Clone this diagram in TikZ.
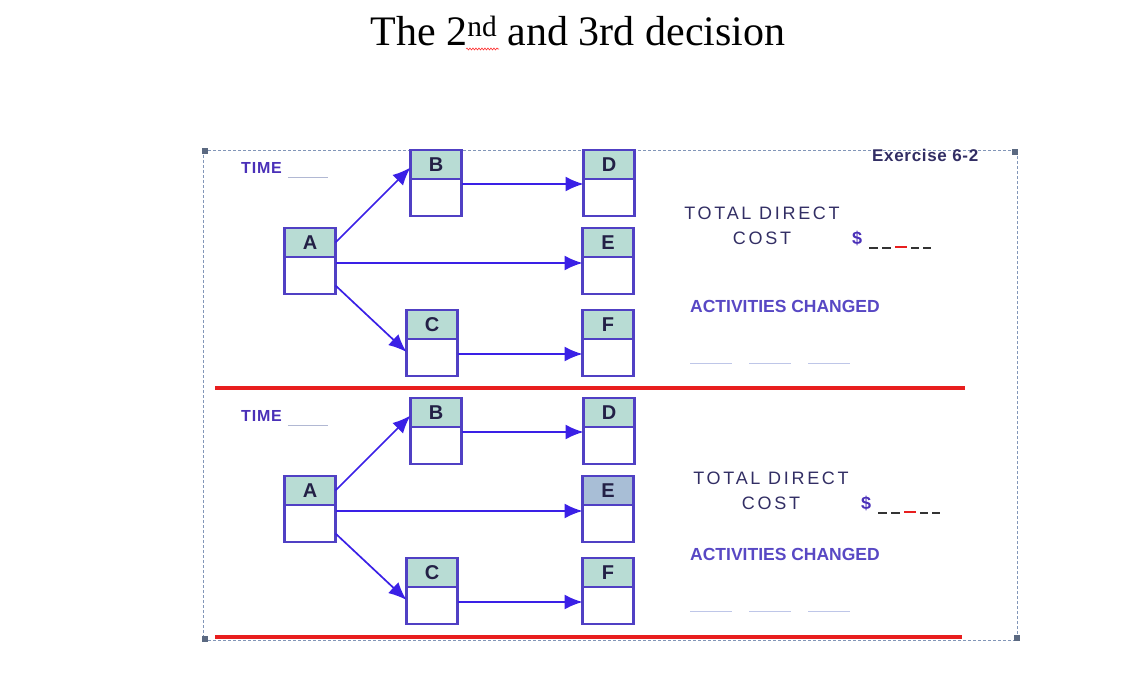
\documentclass[tikz,border=0pt]{standalone}
\usepackage{fontspec}
\setmainfont{Liberation Serif}
\setsansfont{Liberation Sans}
\usetikzlibrary{arrows.meta, positioning, calc, decorations.pathmorphing}
\definecolor{boxline}{RGB}{80, 64, 196}
\definecolor{hdrfill}{RGB}{184, 220, 212}
\definecolor{hdrdark}{RGB}{168, 190, 214}
\definecolor{arrblue}{RGB}{58, 32, 230}
\definecolor{navytext}{RGB}{50, 46, 100}
\definecolor{purpletext}{RGB}{88, 72, 196}
\definecolor{timetext}{RGB}{74, 48, 184}
\definecolor{framegray}{RGB}{130, 150, 184}
\definecolor{redrule}{RGB}{232, 30, 30}
\definecolor{blankline}{RGB}{190, 198, 232}

\begin{document}
\begin{tikzpicture}[x=1pt, y=-1pt,
  every node/.style={font=\sffamily},
  hdr/.style={draw=boxline, line width=2.2pt, fill=hdrfill, outer sep=0pt,
              minimum width=51pt, minimum height=29pt, inner sep=0pt,
              font=\sffamily\bfseries\fontsize{20}{20}\selectfont, text=navytext!70!black},
  bdy/.style={draw=boxline, line width=2.2pt, fill=white, outer sep=0pt,
              minimum width=51pt, minimum height=37pt, inner sep=0pt},
  arr/.style={draw=arrblue, line width=1.7pt, -{Latex[length=18pt, width=15pt]}},
  redrl/.style={draw=redrule, line width=3.2pt},
  lbl/.style={anchor=west, inner sep=0pt}
]
\useasboundingbox (0,0) rectangle (1121,676);

% Heading
\node[font=\rmfamily\fontsize{42}{42}\selectfont] (title) at (578,31)
  {The 2\textsuperscript{nd} and 3rd decision};
\draw[red!80, line width=0.6pt, decorate,
      decoration={snake, amplitude=1pt, segment length=3pt}] (466,49) -- (499,49);

% Slide frame with its handles
\draw[framegray, line width=0.8pt, dash pattern=on 3pt off 2pt]
  (203,150) rectangle (1017,640);
\foreach \hx/\hy in {205/151, 1015/152, 205/639, 1017/638}
  \fill[framegray!70!black] (\hx-3,\hy-3) rectangle (\hx+3,\hy+3);

\node[lbl, font=\sffamily\bfseries\fontsize{17}{17}\selectfont\addfontfeature{LetterSpace=4},
      text=navytext] (exer) at (872,155) {Exercise 6-2};

% Red rules under each network
\draw[redrl] (215,388) -- (965,388);
\draw[redrl] (215,637) -- (962,637);

% Two copies of the network, 248pt apart
\foreach \p/\dy/\ef/\tx/\ty in {1/0/hdrfill/0/0, 2/248/hdrdark/9/265}{
  % activity boxes: header node + body node
  \node[hdr, anchor=north] (a\p) at (310,228+\dy) {A};
  \node[hdr, anchor=north] (b\p) at (436,150+\dy) {B};
  \node[hdr, anchor=north] (c\p) at (432,310+\dy) {C};
  \node[hdr, anchor=north] (d\p) at (609,150+\dy) {D};
  \node[hdr, anchor=north, fill=\ef] (e\p) at (608,228+\dy) {E};
  \node[hdr, anchor=north] (f\p) at (608,310+\dy) {F};
  \foreach \n in {a,b,c,d,e,f}
    \node[bdy, below=0pt of \n\p] (\n\p-b) {};

  % precedence arrows
  \coordinate (ae\p) at ([yshift=-6pt]e\p-b.north west);
  \coordinate (bd\p) at ([yshift=-5pt]d\p-b.north west);
  \coordinate (cf\p) at ([yshift=-15pt]f\p-b.north west);
  \draw[arr] (a\p.east) -- ([yshift=-3pt]b\p.west);
  \draw[arr] (a\p-b.east |- ae\p) -- (ae\p);
  \draw[arr] ([yshift=-10pt]a\p-b.east) -- ([yshift=-13pt]c\p-b.north west);
  \draw[arr] (b\p-b.east |- bd\p) -- (bd\p);
  \draw[arr] (c\p-b.east |- cf\p) -- (cf\p);

  % answer fields
  \node[lbl, font=\sffamily\bfseries\fontsize{16}{16}\selectfont\addfontfeature{LetterSpace=5},
        text=timetext] (time\p) at (241,170+\dy)
    {TIME\hspace{6pt}\textcolor{blankline!80!gray}{\rule[-4pt]{40pt}{1pt}}};
  \node[align=center, inner sep=0pt, text=navytext,
        font=\sffamily\fontsize{18}{25}\selectfont\addfontfeature{LetterSpace=15}]
    (cost\p) at (762+\tx,226+\ty) {TOTAL DIRECT\\COST};
  \node[lbl, font=\sffamily\bfseries\fontsize{18}{18}\selectfont, text=timetext]
    (dollar\p) at (852+\tx,240+\ty)
    {\$\hspace{7pt}\textcolor{black!80}{\rule[-4pt]{9pt}{1.6pt}\hspace{4pt}\rule[-4pt]{9pt}{1.6pt}}%
     \hspace{4pt}\textcolor{redrule}{\rule[-3.5pt]{12pt}{2.2pt}}%
     \hspace{4pt}\textcolor{black!80}{\rule[-4pt]{8pt}{1.6pt}\hspace{4pt}\rule[-4pt]{8pt}{1.6pt}}};
  \node[lbl, font=\sffamily\bfseries\fontsize{17.5}{17.5}\selectfont, text=purpletext]
    (act\p) at (690,306+\dy) {ACTIVITIES CHANGED};
  \foreach \bx in {690, 749, 808}
    \draw[blankline, line width=1pt] (\bx,363+\dy) -- ++(42,0);
}

\end{tikzpicture}
\end{document}
